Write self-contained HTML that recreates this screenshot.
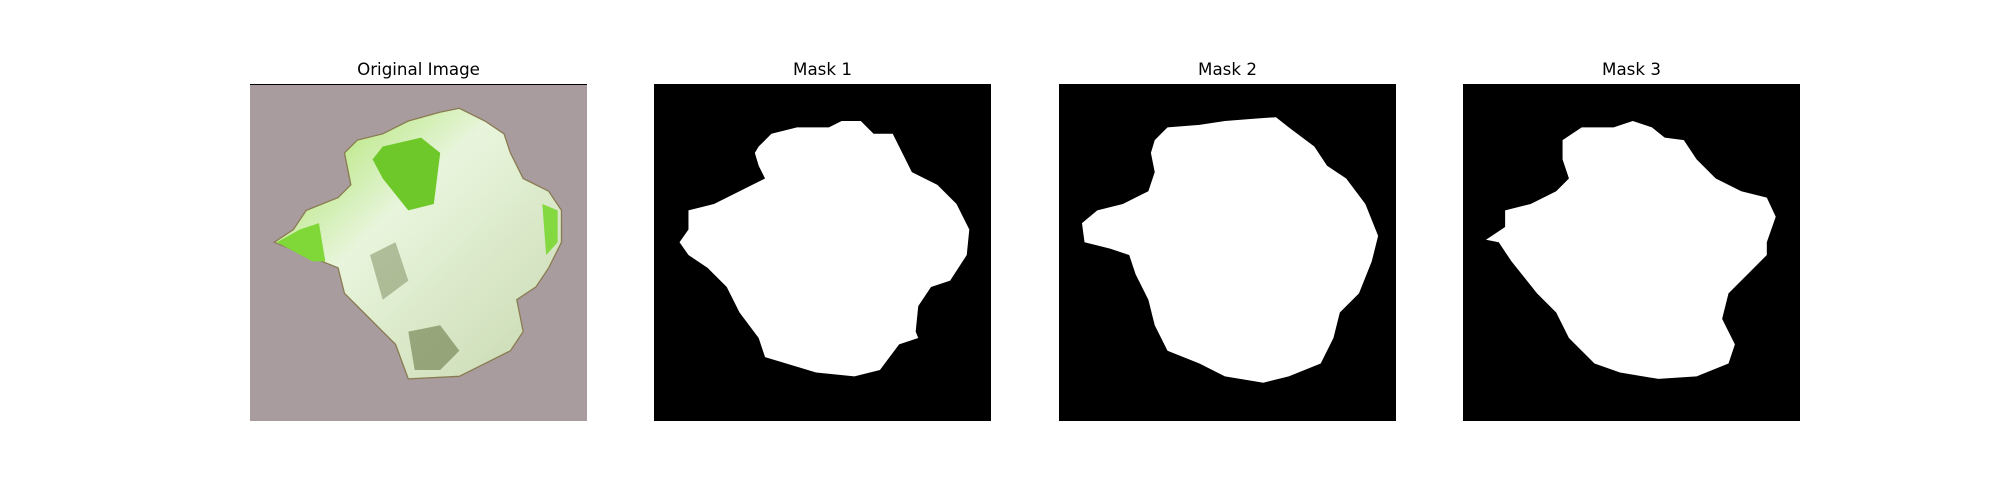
<!DOCTYPE html>
<html><head><meta charset="utf-8"><style>
body{margin:0;background:#fff;width:2000px;height:500px;overflow:hidden;position:relative;font-family:"DejaVu Sans","Liberation Sans",sans-serif}
.t{position:absolute;top:59px;width:337px;text-align:center;font-size:16.7px;color:#000}
svg{position:absolute;top:84px;width:337px;height:337px}
</style></head><body>
<div class="t" style="left:250px">Original Image</div>
<div class="t" style="left:654px">Mask 1</div>
<div class="t" style="left:1059px">Mask 2</div>
<div class="t" style="left:1463px">Mask 3</div>

<svg style="left:250px" viewBox="196 66 264 264" preserveAspectRatio="none">
<defs><linearGradient id="g" x1="0" y1="0" x2="1" y2="1"><stop offset="0" stop-color="#9ee050"/><stop offset="0.4" stop-color="#e8f5dc"/><stop offset="1" stop-color="#c8d8b0"/></linearGradient></defs>
<rect x="196" y="66" width="264" height="264" fill="#a89c9f"/>
<line x1="196" y1="66.4" x2="460" y2="66.4" stroke="#000" stroke-width="0.8"/>
<polygon fill="url(#g)" stroke="#8a7a50" stroke-width="1" points="270,120 280,110 300,105 320,95 345,88 360,85 380,95 395,105 400,120 410,140 430,150 440,165 440,190 430,210 420,225 405,235 410,260 400,275 380,285 360,295 320,297 310,270 290,250 270,230 265,210 240,200 215,190 230,180 240,165 265,155 275,145"/>
<polygon fill="#6ec82a" points="292,125 300,115 330,108 345,120 340,160 320,165 300,140"/>
<polygon fill="#7fd838" points="217,190 235,180 250,175 255,205 245,205"/>
<polygon fill="#84d840" points="425,160 437,165 437,190 428,200"/>
<polygon fill="#7a8a5a" opacity="0.7" points="320,260 345,255 360,275 345,290 325,290"/>
<polygon fill="#7a8a5a" opacity="0.5" points="290,200 310,190 320,220 300,235"/>
</svg>

<svg style="left:654px" viewBox="513 66 264 264" preserveAspectRatio="none">
<rect x="513" y="66" width="264" height="264" fill="#000"/>
<polygon fill="#fff" points="595,115 605,105 625,100 650,100 660,95 675,95 685,105 700,105 715,135 735,145 750,160 760,180 758,200 745,220 730,225 720,240 718,260 720,265 705,270 690,290 670,295 640,292 600,280 595,265 580,245 570,225 555,210 540,200 533,190 540,180 540,165 560,160 580,150 600,140 595,130 592,120"/>
</svg>

<svg style="left:1059px" viewBox="830 66 264 264" preserveAspectRatio="none">
<rect x="830" y="66" width="264" height="264" fill="#000"/>
<polygon fill="#fff" points="905,110 915,100 940,98 960,95 985,93 1000,92 1010,100 1030,115 1040,130 1055,140 1070,160 1080,185 1075,205 1065,230 1050,245 1045,265 1035,285 1010,295 990,300 960,295 940,285 915,275 905,255 900,235 890,215 885,200 870,195 850,190 848,175 860,165 880,160 900,150 905,135 902,120"/>
</svg>

<svg style="left:1463px" viewBox="1147 66 264 264" preserveAspectRatio="none">
<rect x="1147" y="66" width="264" height="264" fill="#000"/>
<polygon fill="#fff" points="1225,110 1240,100 1265,100 1280,95 1295,100 1305,108 1320,110 1330,125 1345,140 1365,150 1385,155 1392,170 1385,190 1385,200 1370,215 1355,230 1350,250 1360,270 1355,285 1330,295 1300,297 1270,292 1250,285 1230,265 1220,245 1205,230 1185,205 1175,190 1165,188 1180,178 1180,165 1200,160 1220,150 1230,140 1225,125"/>
</svg>
</body></html>
